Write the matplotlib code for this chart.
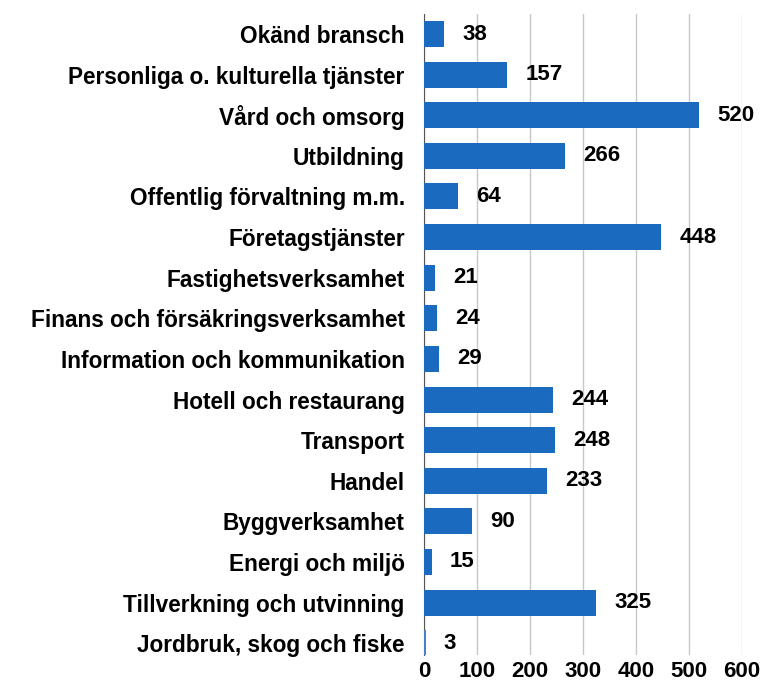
import matplotlib.pyplot as plt

# Sysselsatta per bransch
branscher = [
    "Okänd bransch",
    "Personliga o. kulturella tjänster",
    "Vård och omsorg",
    "Utbildning",
    "Offentlig förvaltning m.m.",
    "Företagstjänster",
    "Fastighetsverksamhet",
    "Finans och försäkringsverksamhet",
    "Information och kommunikation",
    "Hotell och restaurang",
    "Transport",
    "Handel",
    "Byggverksamhet",
    "Energi och miljö",
    "Tillverkning och utvinning",
    "Jordbruk, skog och fiske",
]
antal = [38, 157, 520, 266, 64, 448, 21, 24, 29, 244, 248, 233, 90, 15, 325, 3]
xticks = [0, 100, 200, 300, 400, 500, 600]

plt.rcParams['font.family'] = ['Liberation Sans', 'DejaVu Sans']

fig = plt.figure(figsize=(7.6, 6.87), dpi=100)
ax = fig.add_axes([0.558, 0.046, 0.418, 0.934])

farger = ['#1a6bbf'] * (len(antal) - 1) + ['#4a7fd0']
pos = list(range(len(branscher)))
ax.barh(pos, antal, height=0.64, color=farger, zorder=3)

for y, v in zip(pos, antal):
    ax.annotate(str(v), (v, y), xytext=(13, 0), textcoords='offset points',
                va='center', ha='left', fontsize=16, fontweight='bold', zorder=4)

ax.set_yticks(pos)
ax.set_yticklabels(branscher, fontsize=16.3, fontweight='bold')
ax.set_xticks(xticks)
ax.set_xticklabels([str(t) for t in xticks], fontsize=16, fontweight='bold')
ax.set_xlim(0, 600)
ax.set_ylim(15.3, -0.5)

ax.grid(axis='x', color='#c8c8c8', linewidth=1, zorder=0)
for s in ['top', 'right', 'bottom']:
    ax.spines[s].set_visible(False)
ax.spines['left'].set_color('#555555')
ax.tick_params(axis='both', length=0)
ax.tick_params(axis='y', pad=14)
ax.tick_params(axis='x', pad=4)

fig.savefig('out.png', dpi=100)
